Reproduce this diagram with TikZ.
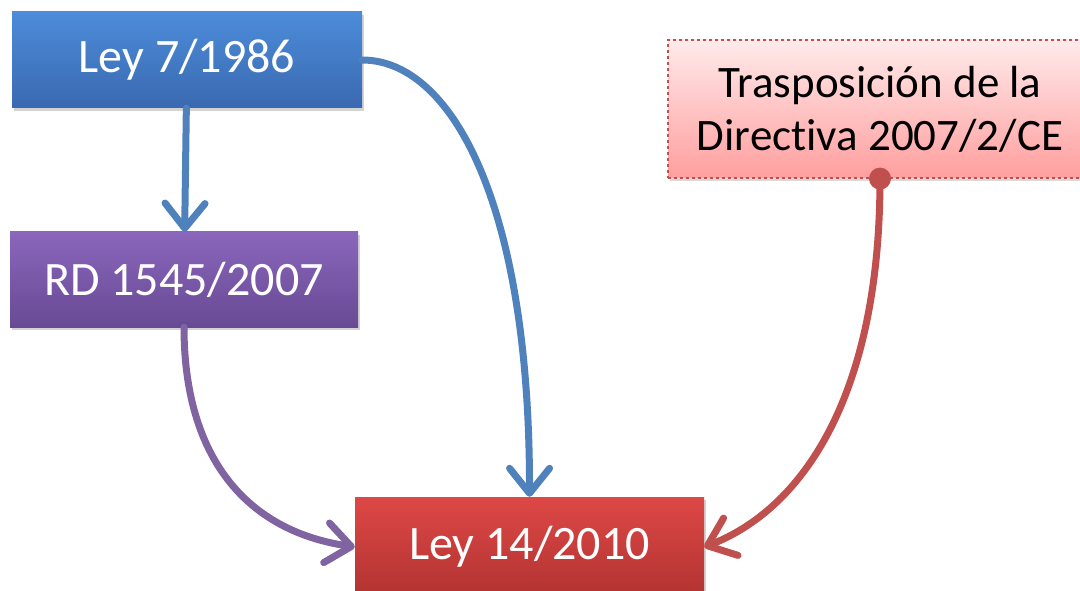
\documentclass[tikz,border=0pt]{standalone}
\usepackage{fontspec}
\setmainfont{Carlito}[Ligatures=NoCommon]
\usetikzlibrary{arrows.meta,shadows}
\definecolor{lawBlue}{HTML}{4F81BD}
\definecolor{lawPurple}{HTML}{8064A2}
\definecolor{lawRed}{HTML}{C0504D}
\definecolor{boxBlueTop}{HTML}{4C8CDA}
\definecolor{boxBlueBot}{HTML}{3A69B0}
\definecolor{boxPurpleTop}{HTML}{8A66BC}
\definecolor{boxPurpleBot}{HTML}{684A94}
\definecolor{boxRedTop}{HTML}{DE4846}
\definecolor{boxRedBot}{HTML}{B13331}
\begin{document}
\begin{tikzpicture}[x=1pt,y=-1pt]
				\useasboundingbox (0,0) rectangle (1080,591);
				\tikzstyle{Box} = [rectangle, inner sep=0pt, text=white, font=\fontsize{48}{56}\selectfont, drop shadow={shadow xshift=2pt, shadow yshift=-3pt, opacity=0.35}]
				\tikzstyle{Link} = [line width=7pt, line cap=round, -{Straight Barb[length=25pt, width=40pt, round]}]
				\node (ley7) at (187,60) [Box, minimum width=350pt, minimum height=96pt, top color=boxBlueTop, bottom color=boxBlueBot] {Ley 7/1986};
				\node (rd) at (184,279.5) [Box, minimum width=348pt, minimum height=95pt, top color=boxPurpleTop, bottom color=boxPurpleBot] {RD 1545/2007};
				\node (ley14) at (529.5,547) [Box, minimum width=349pt, minimum height=100pt, top color=boxRedTop, bottom color=boxRedBot] {Ley 14/2010};
				\node (dir) at (880,109) [rectangle, inner sep=0pt, minimum width=424pt, minimum height=138pt, draw=lawRed, dashed, line width=1.2pt, top color=red!8!white, bottom color=red!38!white, align=center, font=\fontsize{45}{53}\selectfont, drop shadow={shadow xshift=2pt, shadow yshift=-3pt, opacity=0.3}] {Trasposición de la\\Directiva 2007/2/CE};
				\node (dot) at (dir.south) [circle, fill=lawRed, minimum size=22pt, inner sep=0pt] {};
				\draw [Link, lawBlue] (ley7) to (rd);
				\draw [Link, lawBlue] (ley7.east) .. controls (450,60) and (530,200) .. (ley14.north);
				\draw [Link, lawPurple] (rd.south) .. controls (184,450) and (240,530) .. (ley14.west);
				\draw [Link, lawRed] (dot.center) .. controls (880,400) and (800,510) .. (ley14.east);
			\end{tikzpicture}
\end{document}
